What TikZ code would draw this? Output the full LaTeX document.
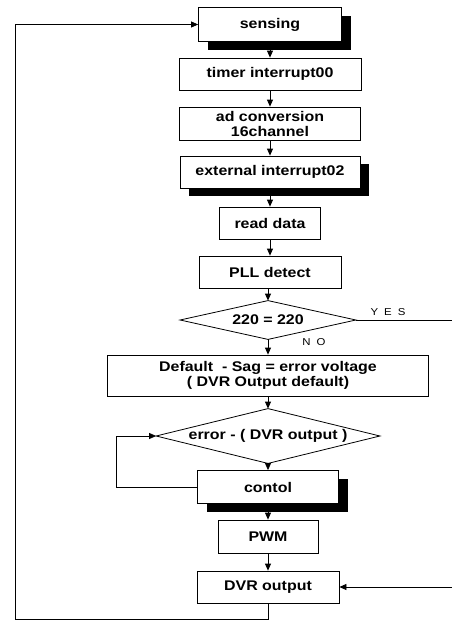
\documentclass[tikz,border=0pt]{standalone}
\usepackage{fontspec}
\setmainfont[FakeStretch=1.14]{Liberation Sans}
\usetikzlibrary{arrows.meta,shadows,calc}
\begin{document}
\begin{tikzpicture}[x=1pt,y=-1pt,
  line width=0.8pt,
  box/.style={draw, fill=white, inner sep=0pt, align=center,
    font=\bfseries\fontsize{14}{15}\selectfont},
  shbox/.style={box, drop shadow={shadow xshift=9pt, shadow yshift=-8pt, fill=black, opacity=1}},
  dia/.style={inner sep=0pt, align=center, font=\bfseries\fontsize{14}{15}\selectfont},
  lbl/.style={inner sep=0pt, font=\fontsize{10}{12}\selectfont},
  arr/.style={-{Triangle[length=7pt,width=6pt]}},
]
\fill[white] (0,0) rectangle (452,621);
\useasboundingbox (0,0) rectangle (452,621);

\node[shbox, minimum width=143pt, minimum height=34pt] (s) at (270,24.5) {sensing};
\node[box, minimum width=182pt, minimum height=32pt] (t) at (270,74) {timer interrupt00};
\node[box, minimum width=181pt, minimum height=33pt] (ad) at (270,123.5) {ad conversion\\16channel};
\node[shbox, minimum width=180pt, minimum height=32pt] (ex) at (270,172) {external interrupt02};
\node[box, minimum width=101pt, minimum height=32pt] (rd) at (270,223) {read data};
\node[box, minimum width=142pt, minimum height=32pt] (pll) at (270,272) {PLL detect};
\node[dia, minimum width=175pt, minimum height=38pt] (d1) at (268,320) {220 = 220};
\draw (d1.west) -- (d1.north) -- (d1.east) -- (d1.south) -- cycle;
\node[box, minimum width=321pt, minimum height=41pt] (df) at (268,375.5) {Default \ - Sag = error voltage\\( DVR Output default)};
\node[dia, minimum width=223pt, minimum height=54pt] (d2) at (268,436) {error - ( DVR output )};
\draw (d2.west) -- (d2.north) -- (d2.east) -- (d2.south) -- cycle;
\node[shbox, minimum width=141pt, minimum height=33pt] (c) at (268,487) {contol};
\node[box, minimum width=100pt, minimum height=33pt] (pwm) at (268,536.5) {PWM};
\node[box, minimum width=142pt, minimum height=32pt] (dvr) at (268,587) {DVR output};

\node[lbl] (yes) at (388,312) {{\spaceskip=6pt Y E S}};
\node[lbl] (no) at (314,342) {{\spaceskip=6pt N O}};

\coordinate (yesend) at (452,320);
\coordinate (rin) at (452,587);
\coordinate (lx) at (116,0);
\coordinate (bl) at (15,619);

\draw[arr] (s.south) -- (s.south |- t.north);
\draw[arr] (t.south) -- (t.south |- ad.north);
\draw[arr] (ad.south) -- (ad.south |- ex.north);
\draw[arr] (ex.south) -- (ex.south |- rd.north);
\draw[arr] (rd.south) -- (rd.south |- pll.north);
\draw[arr] (pll.south) -- (pll.south -| d1.north) -- (d1.north);
\draw[arr] (d1.south) -- (df.north -| d1.south);
\draw[arr] (df.south -| d2.north) -- (d2.north);
\draw[arr] (d2.south) -- (c.north -| d2.south);
\draw[arr] (c.south) -- (pwm.north);
\draw[arr] (pwm.south) -- (dvr.north);
\draw (d1.east) -- (yesend);
\draw[arr] (rin) -- (dvr.east);
\draw[arr] (c.west) -- (c.west -| lx) |- (d2.west);
\draw[arr] (dvr.south) |- (bl) |- (s.west);
\end{tikzpicture}
\end{document}
